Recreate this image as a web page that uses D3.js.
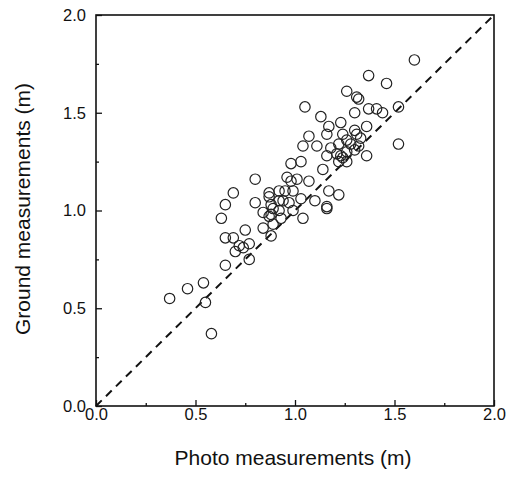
<!DOCTYPE html>
<html>
<head>
<meta charset="utf-8" />
<script src="https://d3js.org/d3.v7.min.js"></script>
<style>
  body { margin: 0; background: #fff; }
  text { font-family: "Liberation Sans", Arial, sans-serif; fill: #111; }
</style>
</head>
<body>
<svg id="chart" width="507" height="478"></svg>
<script>
// photo (x) vs ground (y) measurements, metres
let photo = [0.37,0.46,0.54,0.55,0.58,0.65,0.63,0.65,0.69,0.65,0.69,0.70,0.72,0.75,0.77,0.77,
  0.80,0.80,0.84,0.87,0.87,0.87,0.88,0.88,0.89,0.92,0.93,0.94,0.95,0.96,0.98,0.98,0.99,0.99,
  1.01,1.03,1.04,1.03,1.04,1.05,1.07,1.07,1.10,1.11,1.13,1.14,1.16,1.17,1.17,1.16,1.18,1.16,
  1.22,1.23,1.23,1.24,1.26,1.26,1.26,1.30,1.31,1.32,1.30,1.31,1.30,1.36,1.36,1.37,1.37,1.41,
  1.44,1.46,1.52,1.52,1.60,1.22,1.28,1.26,0.97,0.92,0.89,0.84,0.74,0.92,1.24,1.21,1.22,1.32,
  1.16,1.33,0.88]
let ground = [0.55,0.60,0.63,0.53,0.37,0.72,0.96,1.03,1.09,0.86,0.86,0.79,0.82,0.90,0.83,0.75,
  1.16,1.04,0.91,0.97,1.07,1.09,0.87,0.98,1.01,1.05,0.96,1.05,1.10,1.17,1.24,1.15,1.10,1.00,
  1.16,1.25,1.33,1.06,0.96,1.53,1.38,1.15,1.05,1.33,1.48,1.21,1.02,1.10,1.43,1.39,1.32,1.28,
  1.08,1.45,1.28,1.39,1.61,1.36,1.30,1.50,1.58,1.57,1.41,1.39,1.31,1.43,1.28,1.69,1.52,1.52,
  1.50,1.65,1.53,1.34,1.77,1.34,1.34,1.25,1.04,1.00,0.93,0.99,0.81,1.10,1.27,1.29,1.25,1.33,
  1.01,1.37,1.03]
let majorTicks = [0, 0.5, 1.0, 1.5, 2.0]
let minorTicks = [0.25, 0.75, 1.25, 1.75]
let domain = [0, 2]

let svg = d3.select("#chart")
let m = {left: 96, right: 494, top: 15, bottom: 406}

let x = d3.scaleLinear().domain(domain).range([m.left, m.right])
let y = d3.scaleLinear().domain(domain).range([m.bottom, m.top])

// frame
svg.append("rect")
  .attr("x", m.left).attr("y", m.top)
  .attr("width", m.right - m.left).attr("height", m.bottom - m.top)
  .attr("fill", "none").attr("stroke", "#111").attr("stroke-width", 1.6)

// inward ticks
let xAxis = d3.axisBottom(x).tickValues(majorTicks).tickFormat(d3.format(".1f")).tickSizeInner(-6).tickSizeOuter(0).tickPadding(5)
let yAxis = d3.axisLeft(y).tickValues(majorTicks).tickFormat(d3.format(".1f")).tickSizeInner(-6).tickSizeOuter(0).tickPadding(10)

let gx = svg.append("g").attr("transform", `translate(0,${m.bottom})`).call(xAxis)
let gy = svg.append("g").attr("transform", `translate(${m.left},0)`).call(yAxis)
svg.append("g").attr("transform", `translate(0,${m.bottom})`)
  .call(d3.axisBottom(x).tickValues(minorTicks).tickFormat("").tickSizeInner(-3).tickSizeOuter(0))
svg.append("g").attr("transform", `translate(${m.left},0)`)
  .call(d3.axisLeft(y).tickValues(minorTicks).tickFormat("").tickSizeInner(-3).tickSizeOuter(0))

svg.selectAll(".domain").remove()
svg.selectAll(".tick line").attr("stroke", "#111").attr("stroke-width", 1.3)
svg.selectAll(".tick text").attr("font-size", 16.5).attr("fill", "#111")
  .style("font-family", "'Liberation Sans', Arial, sans-serif")
gx.selectAll(".tick text").attr("dy", "0.55em")

// 1:1 line
svg.append("line")
  .attr("x1", x(0)).attr("y1", y(0)).attr("x2", x(2)).attr("y2", y(2))
  .attr("stroke", "#111").attr("stroke-width", 2).attr("stroke-dasharray", "8,6")

// points
svg.append("g").selectAll("circle").data(photo).enter()
  .append("circle")
  .attr("cx", d => x(d))
  .attr("cy", (d, i) => y(ground[i]))
  .attr("r", 5.2)
  .attr("fill", "none").attr("stroke", "#222").attr("stroke-width", 1.2)

// axis titles
svg.append("text")
  .attr("x", 293).attr("y", 465)
  .attr("text-anchor", "middle").attr("font-size", 21)
  .text("Photo measurements (m)")
svg.append("text")
  .attr("transform", `translate(30,209) rotate(-90)`)
  .attr("text-anchor", "middle").attr("font-size", 21)
  .text("Ground measurements (m)")
</script>
</body>
</html>
